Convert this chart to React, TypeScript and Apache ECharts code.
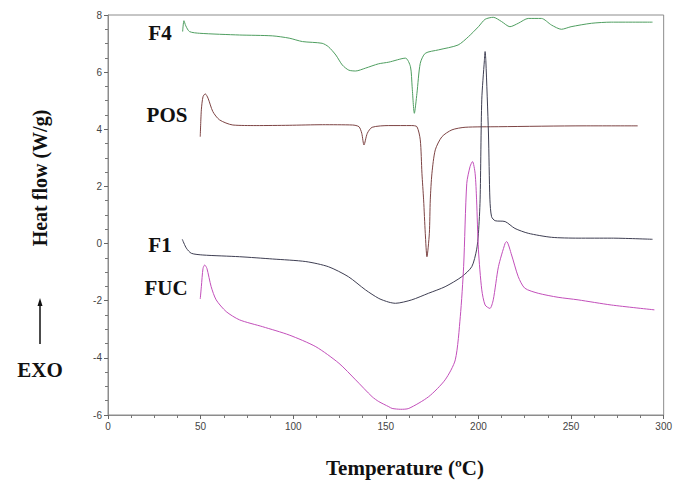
import React, { useEffect, useRef } from "react";
import * as echarts from "echarts";

// F4 (green)
const f4Temp = [40.3, 41, 42, 44, 49.5, 71, 88.7, 97.8, 105, 115.6, 119, 123, 126.5, 130, 133.7, 139, 146, 151.6, 160.6, 163.3, 164.2, 165.4, 166.8, 168.6, 171.3, 178.5, 189, 194.6, 200, 203.6, 208, 212.5, 217, 221.5, 226.9, 234, 239.4, 244.8, 250, 261, 271.7, 294];
const f4Flow = [7.42, 7.8, 7.62, 7.42, 7.36, 7.3, 7.27, 7.19, 7.07, 7.01, 6.89, 6.6, 6.25, 6.07, 6.04, 6.14, 6.29, 6.35, 6.49, 6.19, 5.49, 4.56, 5.26, 6.31, 6.66, 6.78, 6.95, 7.24, 7.59, 7.85, 7.92, 7.77, 7.59, 7.71, 7.88, 7.88, 7.65, 7.5, 7.59, 7.71, 7.75, 7.75];

// POS (brown)
const posTemp = [49.8, 50.4, 51.3, 52.5, 54, 56.6, 60.2, 67.4, 80, 97.8, 115.8, 132, 135.5, 137, 138.2, 140, 142.6, 151.6, 164, 166.8, 168.6, 169.5, 170.4, 171.3, 172.2, 173.5, 174, 174.9, 176.7, 180.3, 185.7, 192.8, 210.8, 257, 286];
const posFlow = [3.74, 4.68, 5.14, 5.24, 5.09, 4.62, 4.33, 4.15, 4.13, 4.14, 4.16, 4.15, 4.09, 3.86, 3.45, 3.86, 4.07, 4.13, 4.13, 4.09, 3.63, 2.46, 1.53, 0.36, -0.46, 0.36, 1.53, 2.46, 3.28, 3.74, 3.98, 4.07, 4.09, 4.12, 4.12];

// F1 (dark blue-grey)
const f1Temp = [40.1, 42.3, 45, 51.2, 71, 88.9, 106.8, 119, 129.8, 139, 146.2, 151.6, 155.2, 164, 173, 182, 191, 196.4, 199, 200, 200.9, 201.8, 203.2, 203.6, 204, 205.4, 206.2, 207.1, 209, 214.4, 219.7, 226.9, 239.4, 253.8, 271.7, 294];
const f1Flow = [0.15, -0.16, -0.34, -0.4, -0.46, -0.54, -0.63, -0.81, -1.16, -1.62, -1.92, -2.05, -2.09, -1.97, -1.74, -1.51, -1.16, -0.81, -0.22, 0.36, 1.53, 5.03, 6.4, 6.72, 6.4, 3.87, 1.53, 0.94, 0.8, 0.77, 0.53, 0.36, 0.22, 0.19, 0.19, 0.15];

// FUC (magenta)
const fucTemp = [49.8, 50.4, 51.3, 52.2, 53.4, 55.7, 58.4, 63.8, 71, 83.5, 97.8, 112.2, 124.7, 133.7, 142.6, 146.2, 151.6, 153.4, 158, 162.4, 173.1, 182, 187.5, 190.2, 192, 193.7, 195.5, 196.8, 198.2, 199, 200, 201.8, 203.6, 206.2, 208, 210.8, 214.4, 215.2, 217.9, 221.5, 225, 232.3, 243, 253.8, 271.7, 295];
const fucFlow = [-1.94, -1.51, -0.87, -0.75, -0.87, -1.51, -1.97, -2.38, -2.67, -2.91, -3.2, -3.61, -4.19, -4.77, -5.36, -5.53, -5.71, -5.77, -5.8, -5.77, -5.36, -4.77, -4.07, -2.56, -0.81, 2.11, 2.7, 2.87, 2.46, 1.53, -0.22, -1.62, -2.15, -2.27, -1.97, -0.81, 0.01, 0.07, -0.4, -1.16, -1.56, -1.74, -1.88, -1.97, -2.15, -2.32];

const xTicks = [0, 50, 100, 150, 200, 250, 300];
const yTicks = [-6, -4, -2, 0, 2, 4, 6, 8];

const seriesNames = ["F4", "POS", "F1", "FUC"];
const seriesColors = ["#4f9e60", "#7d4444", "#3e3e52", "#c24fba"];

const zip = (a: number[], b: number[]) => a.map((t, i) => [t, b[i]]);

const serif = "'Liberation Serif', 'Times New Roman', serif";

export default function App() {
  const ref = useRef<HTMLDivElement>(null);
  useEffect(() => {
    if (!ref.current) return;
    const chart = echarts.init(ref.current, null, { renderer: "svg" });
    const datas = [zip(f4Temp, f4Flow), zip(posTemp, posFlow), zip(f1Temp, f1Flow), zip(fucTemp, fucFlow)];
    const labelPos = [
      [160, 33],
      [167, 115],
      [160, 245],
      [166, 288],
    ];
    chart.setOption({
      animation: false,
      backgroundColor: "#ffffff",
      grid: {
        left: 108,
        top: 15,
        right: 9,
        bottom: 65,
        show: true,
        borderColor: "#8c8c8c",
        borderWidth: 1,
      },
      xAxis: {
        type: "value",
        min: xTicks[0],
        max: xTicks[xTicks.length - 1],
        interval: 50,
        axisLine: { onZero: false, lineStyle: { color: "#8c8c8c" } },
        axisTick: { show: true, length: 4, lineStyle: { color: "#666" } },
        minorTick: { show: true, splitNumber: 4, length: 3, lineStyle: { color: "#777" } },
        splitLine: { show: false },
        axisLabel: { color: "#444", fontSize: 10, fontFamily: "Arial, 'Liberation Sans', sans-serif", margin: 6 },
      },
      yAxis: {
        type: "value",
        min: yTicks[0],
        max: yTicks[yTicks.length - 1],
        interval: 2,
        axisLine: { show: true, onZero: false, lineStyle: { color: "#8c8c8c" } },
        axisTick: { show: true, length: 4, lineStyle: { color: "#666" } },
        minorTick: { show: true, splitNumber: 4, length: 3, lineStyle: { color: "#777" } },
        splitLine: { show: false },
        axisLabel: { color: "#444", fontSize: 10, fontFamily: "Arial, 'Liberation Sans', sans-serif", margin: 6 },
      },
      series: seriesNames.map((n, i) => ({
        name: n,
        type: "line",
        data: datas[i],
        showSymbol: false,
        symbol: "none",
        smooth: 0.25,
        lineStyle: { color: seriesColors[i], width: 1 },
      })),
      graphic: [
        ...seriesNames.map((n, i) => ({
          type: "text",
          x: labelPos[i][0],
          y: labelPos[i][1],
          style: {
            text: n,
            font: `bold 21px ${serif}`,
            fill: "#111",
            align: "center",
            verticalAlign: "middle",
          },
        })),
        {
          type: "text",
          x: 405,
          y: 468,
          style: {
            text: "Temperature (ºC)",
            font: `bold 21px ${serif}`,
            fill: "#111",
            align: "center",
            verticalAlign: "middle",
          },
        },
        {
          type: "text",
          x: 40,
          y: 178,
          rotation: Math.PI / 2,
          style: {
            text: "Heat flow (W/g)",
            font: `bold 20px ${serif}`,
            fill: "#111",
            align: "center",
            verticalAlign: "middle",
          },
        },
        {
          type: "line",
          shape: { x1: 40, y1: 344, x2: 40, y2: 304 },
          style: { stroke: "#111", lineWidth: 1.5 },
        },
        {
          type: "polygon",
          shape: { points: [[40, 298], [37.5, 306], [42.5, 306]] },
          style: { fill: "#111" },
        },
        {
          type: "text",
          x: 40,
          y: 370,
          style: {
            text: "EXO",
            font: `bold 21px ${serif}`,
            fill: "#111",
            align: "center",
            verticalAlign: "middle",
          },
        },
      ],
    });
    return () => chart.dispose();
  }, []);
  return <div ref={ref} style={{ width: 675, height: 480, position: "absolute", left: 0, top: 0 }} />;
}
